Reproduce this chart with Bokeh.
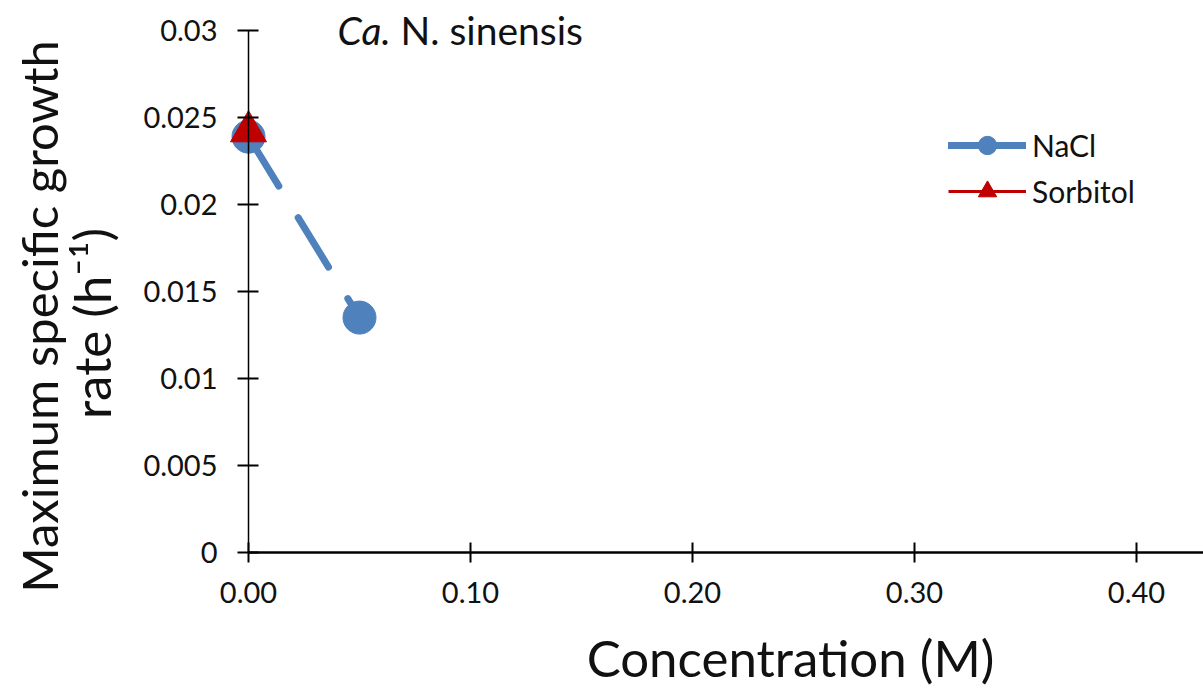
import math
from bokeh.plotting import figure
from bokeh.models import (FixedTicker, Range1d, Label, Legend, LegendItem, ColumnDataSource, LinearAxis)
from bokeh.embed import file_html
from bokeh.resources import INLINE

# ---- data ----
nacl_conc = [0.0, 0.05]
nacl_rate = [0.0239, 0.0135]
sorbitol_conc = [0.0]
sorbitol_rate = [0.0242]

x_ticks = [0.0, 0.1, 0.2, 0.3, 0.4]
x_tick_labels = ["0.00", "0.10", "0.20", "0.30", "0.40"]
y_ticks = [0.0, 0.005, 0.01, 0.015, 0.02, 0.025, 0.03]
y_tick_labels = ["0", "0.005", "0.01", "0.015", "0.02", "0.025", "0.03"]

BLUE = "#4F81BD"
RED = "#C00000"
FONT = "Lato"
TXT = "#111111"

W, H = 1203, 693
X0_PX, Y0_PX = 248, 552          # where (0, 0) lies on the page
PX_PER_X = 2220.0                # pixels per 1 M
PX_PER_Y = 17400.0               # pixels per 1 h^-1
x_range = Range1d(-X0_PX / PX_PER_X, (W - X0_PX) / PX_PER_X)
y_range = Range1d(-(H - Y0_PX) / PX_PER_Y, 0.03 + 30 / PX_PER_Y)

p = figure(width=W, height=H, output_backend="svg", toolbar_location=None,
           x_range=x_range, y_range=y_range,
           x_axis_location=None, y_axis_location=None,
           min_border=0)
p.outline_line_color = None
p.xgrid.visible = False
p.ygrid.visible = False
p.background_fill_color = "white"
p.border_fill_color = "white"

xaxis = LinearAxis(fixed_location=0, bounds=(0, x_range.end))
yaxis = LinearAxis(fixed_location=0, bounds=(0, 0.03))
for ax, ticks, labels in ((xaxis, x_ticks, x_tick_labels), (yaxis, y_ticks, y_tick_labels)):
    ax.ticker = FixedTicker(ticks=ticks)
    ax.major_label_overrides = {t: l for t, l in zip(ticks, labels)}
    ax.minor_tick_line_color = None
    ax.major_tick_in = 10
    ax.major_tick_out = 10
    ax.major_tick_line_color = "black"
    ax.major_tick_line_width = 2
    ax.axis_line_color = "black"
    ax.major_label_text_font = FONT
    ax.major_label_text_font_size = "29px"
    ax.major_label_text_color = TXT
xaxis.axis_line_width = 2.5
yaxis.axis_line_width = 1.5
yaxis.major_tick_out = 11
xaxis.major_label_standoff = 19
yaxis.major_label_standoff = 20
p.add_layout(xaxis, "below")
p.add_layout(yaxis, "left")

# NaCl line + markers
p.line(nacl_conc, nacl_rate, line_color=BLUE, line_width=7, line_dash="58 37", line_cap="round")
p.scatter(nacl_conc, nacl_rate, marker="circle", size=33, fill_color=BLUE, line_color=BLUE)

# Sorbitol
p.line(sorbitol_conc, sorbitol_rate, line_color=RED, line_width=3)
p.scatter(sorbitol_conc, sorbitol_rate, marker="triangle", size=36, fill_color=RED, line_color=RED)

# legend proxies (nothing drawn in the plot)
nan = float("nan")
def proxy():
    return ColumnDataSource(dict(x=[nan], y=[nan]))
lg_nacl_line = p.line("x", "y", source=proxy(), line_color=BLUE, line_width=7, line_cap="round")
lg_nacl_pt = p.scatter("x", "y", source=proxy(), marker="circle", size=20, fill_color=BLUE, line_color=BLUE)
lg_sorb_line = p.line("x", "y", source=proxy(), line_color=RED, line_width=3)
lg_sorb_pt = p.scatter("x", "y", source=proxy(), marker="triangle", size=22, fill_color=RED, line_color=RED)

legend = Legend(items=[
    LegendItem(label="NaCl", renderers=[lg_nacl_line, lg_nacl_pt]),
    LegendItem(label="Sorbitol", renderers=[lg_sorb_line, lg_sorb_pt]),
], location=(948, 479))
legend.border_line_color = None
legend.background_fill_alpha = 0
legend.label_text_font = FONT
legend.label_text_font_size = "30px"
legend.label_text_color = TXT
legend.glyph_width = 78
legend.glyph_height = 46
legend.label_height = 46
legend.spacing = 0
legend.padding = 0
legend.margin = 0
legend.label_standoff = 6
p.add_layout(legend, "center")

# texts (screen units, measured from the bottom-left corner of the page)
p.add_layout(Label(x=337, y=664, x_units="screen", y_units="screen", text="Ca.",
                   text_font=FONT, text_font_size="39px", text_font_style="italic",
                   text_color=TXT, text_baseline="alphabetic"))
p.add_layout(Label(x=400, y=664, x_units="screen", y_units="screen", text="N. sinensis",
                   text_font=FONT, text_font_size="39px",
                   text_color=TXT, text_baseline="alphabetic"))

p.add_layout(Label(x=790, y=36, x_units="screen", y_units="screen", text="Concentration (M)",
                   text_font=FONT, text_font_size="51px", text_align="center",
                   text_color=TXT, text_baseline="alphabetic"))

p.add_layout(Label(x=38, y=377, x_units="screen", y_units="screen", text="Maximum specific growth",
                   text_font=FONT, text_font_size="49px", text_align="center", angle=math.pi / 2,
                   text_color=TXT, text_baseline="alphabetic"))
p.add_layout(Label(x=91, y=370, x_units="screen", y_units="screen", text="rate (h\u207b\u00b9)",
                   text_font=FONT, text_font_size="51px", text_align="center", angle=math.pi / 2,
                   text_color=TXT, text_baseline="alphabetic"))

open("out.html", "w").write(file_html(p, INLINE))
